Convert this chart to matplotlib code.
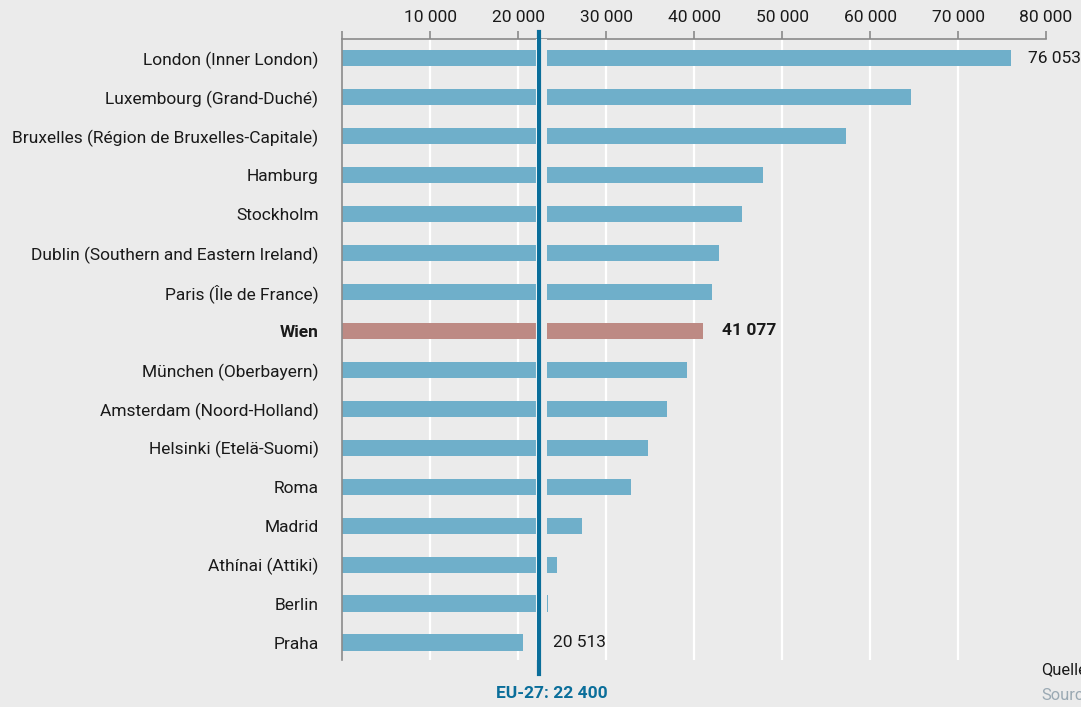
import matplotlib
matplotlib.use("Agg")
import matplotlib.pyplot as plt
from matplotlib.lines import Line2D

# BIP pro Kopf (KKS) ausgewählter Metropolregionen
regions = [
    "London (Inner London)",
    "Luxembourg (Grand-Duché)",
    "Bruxelles (Région de Bruxelles-Capitale)",
    "Hamburg",
    "Stockholm",
    "Dublin (Southern and Eastern Ireland)",
    "Paris (Île de France)",
    "Wien",
    "München (Oberbayern)",
    "Amsterdam (Noord-Holland)",
    "Helsinki (Etelä-Suomi)",
    "Roma",
    "Madrid",
    "Athínai (Attiki)",
    "Berlin",
    "Praha",
]
values = [76053, 64700, 57300, 47800, 45400, 42800, 42100, 41077,
          39200, 36900, 34800, 32800, 27300, 24400, 23400, 20513]
eu_avg = 22400
highlight = "Wien"
labelled = {"London (Inner London)", "Wien", "Praha"}
xticks = [0, 10000, 20000, 30000, 40000, 50000, 60000, 70000, 80000]

BG = "#ebebeb"
BAR = "#6fafca"
BAR_HL = "#bd8a84"
EU = "#0a6e9a"
GREY = "#8a8a8a"
TXT = "#1a1a1a"

plt.rcParams["font.family"] = ["Roboto", "DejaVu Sans"]

fmt = lambda v: f"{v:,}".replace(",", " ")

fig = plt.figure(figsize=(10.81, 7.07), dpi=100)
fig.patch.set_facecolor(BG)

# Schriftgröße so wählen, dass die längste Beschriftung in den linken Rand passt
probe = fig.text(0, 0, regions[2], fontsize=12)
w = probe.get_window_extent(fig.canvas.get_renderer()).width
probe.remove()
FS = min(13.5, 12 * 306 / w)
plt.rcParams["font.size"] = FS

ax = fig.add_axes([342 / 1081, 1 - 660 / 707, 704 / 1081, 621 / 707])
ax.set_facecolor(BG)

ypos = list(range(len(regions)))
colors = [BAR_HL if r == highlight else BAR for r in regions]
ax.barh(ypos, values, height=0.43, color=colors, zorder=2)

# Lücke um die EU-Linie
ax.axvspan(eu_avg - 320, eu_avg + 900, color=BG, zorder=3, lw=0)
ax.axvline(eu_avg - 320, color="white", lw=0.8, zorder=3)

ax.set_xlim(0, 80000)
ax.set_ylim(len(regions) - 0.56, -0.49)

ax.xaxis.tick_top()
ax.set_xticks(xticks)
ax.set_xticklabels(["" if t == 0 else fmt(t) for t in xticks])
ax.tick_params(axis="x", direction="out", length=6, width=1.2, color=GREY,
               labelsize=FS, labelcolor=TXT, pad=4)
for t in xticks[1:-1]:
    ax.axvline(t, color="white", lw=1.6, zorder=1)

ax.set_yticks(ypos)
ax.set_yticklabels(regions)
ax.tick_params(axis="y", length=0, pad=17, labelsize=FS, labelcolor=TXT)
for lab in ax.get_yticklabels():
    if lab.get_text() == highlight:
        lab.set_fontweight("bold")

for side in ("right", "bottom"):
    ax.spines[side].set_visible(False)
for side in ("top", "left"):
    ax.spines[side].set_color(GREY)
    ax.spines[side].set_linewidth(1.2)

# EU-27 Durchschnitt
ax.add_line(Line2D([eu_avg, eu_avg], [1.012, -0.023], color=EU, lw=3,
                   transform=ax.get_xaxis_transform(), clip_on=False, zorder=5))

for y, (r, v) in enumerate(zip(regions, values)):
    if r not in labelled:
        continue
    bold = r == highlight
    if v < eu_avg:
        ax.text(eu_avg + 1600, y, fmt(v), va="center", ha="left",
                fontsize=FS, color=TXT, zorder=6)
    else:
        ax.annotate(fmt(v), (v, y), xytext=(12 if not bold else 13, 0),
                    textcoords="offset points", va="center", ha="left",
                    fontsize=FS, color=TXT,
                    fontweight="bold" if bold else "normal", zorder=6)

fig.text(552 / 1081, 1 - 693 / 707, f"EU-27: {fmt(eu_avg)}", color=EU,
         fontsize=FS, fontweight="bold", ha="center", va="center")
fig.text(1041 / 1081, 1 - 670 / 707, "Quelle", color=TXT, fontsize=FS * 0.95,
         ha="left", va="center")
fig.text(1041 / 1081, 1 - 696 / 707, "Source", color="#9aa9b3",
         fontsize=FS * 0.95, ha="left", va="center")

fig.savefig("out.png", dpi=100, facecolor=BG)
